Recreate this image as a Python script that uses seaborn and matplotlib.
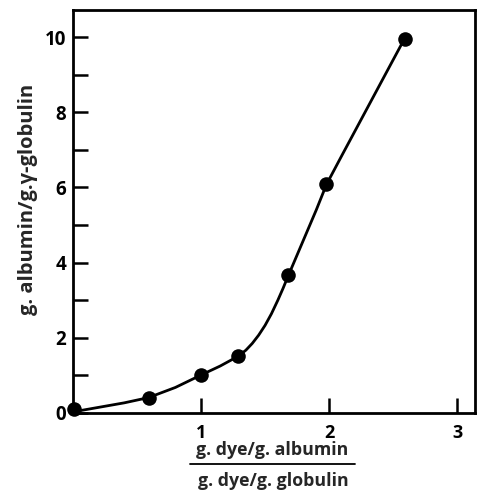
import numpy as np
import pandas as pd
import matplotlib
matplotlib.use("Agg")
import matplotlib.pyplot as plt
import seaborn as sns
from matplotlib.ticker import MultipleLocator
from matplotlib.lines import Line2D

# measured points
dye_ratio = [0.01, 0.59, 1.00, 1.29, 1.68, 1.98, 2.59]
albumin_globulin = [0.10, 0.41, 1.01, 1.51, 3.66, 6.08, 9.96]

# smooth curve drawn through the points
curve_x = [0.0, 0.2, 0.4, 0.59, 0.8, 1.0, 1.15, 1.29, 1.35, 1.4, 1.45, 1.5, 1.55,
           1.6, 1.64, 1.68, 1.75, 1.8, 1.9, 1.98, 2.1, 2.3, 2.5, 2.59]
curve_y = [0.03, 0.15, 0.27, 0.41, 0.68, 1.01, 1.25, 1.51, 1.67, 1.85, 2.07, 2.33, 2.64,
           3.0, 3.31, 3.64, 4.2, 4.6, 5.4, 6.08, 6.85, 8.12, 9.39, 9.96]

y_major = [0, 2, 4, 6, 8, 10]
x_major = [1, 2, 3]

sns.set_theme(style="ticks")
plt.rcParams["font.family"] = ["Open Sans", "DejaVu Sans"]
plt.rcParams["font.weight"] = "bold"

fig = plt.figure(figsize=(4.8, 4.91), dpi=100)
ax = fig.add_axes([73 / 480, 78 / 491, 402 / 480, 403 / 491])

pts = pd.DataFrame({"x": dye_ratio, "y": albumin_globulin})
crv = pd.DataFrame({"x": curve_x, "y": curve_y})

sns.lineplot(data=crv, x="x", y="y", ax=ax, color="black", linewidth=2.0,
             sort=False, estimator=None)
sns.scatterplot(data=pts, x="x", y="y", ax=ax, color="black", s=110,
                edgecolor="black", linewidth=0, zorder=5, clip_on=False)

ax.set_xlim(0, 3.14)
ax.set_ylim(0, 10.72)
ax.set_xticks(x_major)
ax.set_yticks(y_major)
ax.yaxis.set_minor_locator(MultipleLocator(1))
ax.set_xticklabels([str(v) for v in x_major], fontsize=13, fontweight="bold")
ax.set_yticklabels([str(v) for v in y_major], fontsize=13.5, fontweight="bold")

ax.tick_params(axis="both", which="both", direction="in", length=11, width=1.8,
               color="black", labelcolor="black")
ax.tick_params(axis="y", which="both", pad=5)
ax.tick_params(axis="x", which="both", pad=8)
ax.tick_params(axis="x", which="minor", bottom=False)

for sp in ax.spines.values():
    sp.set_linewidth(2.0)
    sp.set_color("black")

ax.set_xlabel("")
ax.set_ylabel("g. albumin/g.\u03b3-globulin", fontsize=14.5, fontweight="bold")
ax.yaxis.set_label_coords(-0.087, 0.53)

# fraction-style x label
fig.text(272 / 480, 1 - 450 / 491, "g. dye/g. albumin", ha="center", va="center",
         fontsize=12.8, fontweight="bold")
fig.add_artist(Line2D([190 / 480, 355 / 480], [1 - 464 / 491, 1 - 464 / 491],
                      color="black", linewidth=1.3, transform=fig.transFigure))
fig.text(273 / 480, 1 - 481 / 491, "g. dye/g. globulin", ha="center", va="center",
         fontsize=12.8, fontweight="bold")

fig.savefig("out.png", dpi=100, facecolor="white")
